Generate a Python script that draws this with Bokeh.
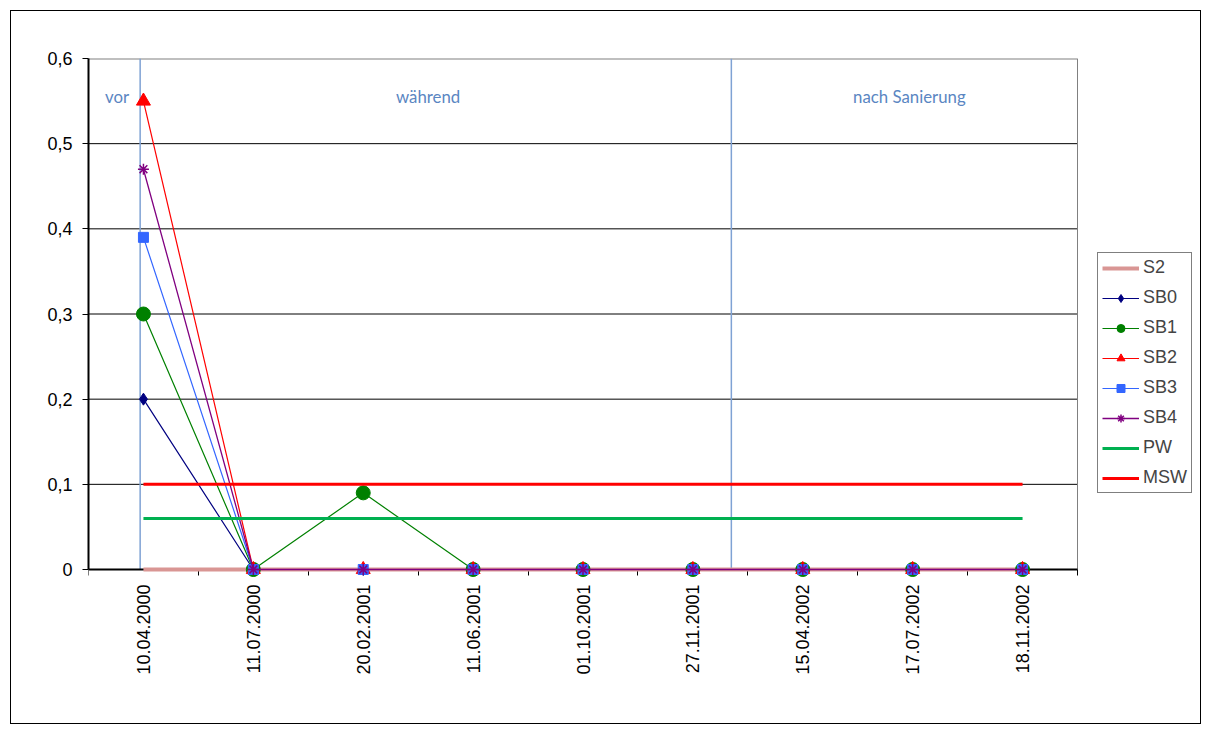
import math
from bokeh.plotting import figure
from bokeh.models import (FixedTicker, CustomJSTickFormatter, Legend,
                          LegendItem, Range1d, ColumnDataSource)
from bokeh.embed import file_html
from bokeh.resources import INLINE
from bokeh.core.properties import value

# ---------------- data ----------------
dates = ["10.04.2000", "11.07.2000", "20.02.2001", "11.06.2001", "01.10.2001",
         "27.11.2001", "15.04.2002", "17.07.2002", "18.11.2002"]
S2 = [0, 0, 0, 0, 0, 0, 0, 0, 0]
SB0 = [0.2, 0, 0, 0, 0, 0, 0, 0, 0]
SB1 = [0.3, 0, 0.09, 0, 0, 0, 0, 0, 0]
SB2 = [0.55, 0, 0, 0, 0, 0, 0, 0, 0]
SB3 = [0.39, 0, 0, 0, 0, 0, 0, 0, 0]
SB4 = [0.47, 0, 0, 0, 0, 0, 0, 0, 0]
PW = [0.06, 0.06, 0.06, 0.06, 0.06, 0.06, 0.06, 0.06, 0.06]
MSW = [0.1, 0.1, 0.1, 0.1, 0.1, 0.1, 0.1, 0.1, 0.1]
y_ticks = [0, 0.1, 0.2, 0.3, 0.4, 0.5, 0.6]
y_min, y_max = 0, 0.6

phase_names = ["vor", "während", "nach Sanierung"]
phase_label_x = [0.26, 3.09, 7.47]
phase_label_y = [0.555, 0.555, 0.555]
phase_bounds = [0.47, 5.85]

# ---------------- layout (pixels) ----------------
W, H = 1191, 714
LEFT, TOP, RIGHT, BOTTOM = 77, 47, 5, 10
PLOT_W, PLOT_H = 989, 511          # visible plot area (axis box)
n = len(dates)
frame_w = W - LEFT - RIGHT
frame_h = H - TOP - BOTTOM
x_end = frame_w * n / PLOT_W
y_start = y_max - frame_h * (y_max - y_min) / PLOT_H

xs = [i + 0.5 for i in range(n)]
bounds = list(range(n + 1))

p = figure(width=W, height=H, output_backend="svg", toolbar_location=None,
           x_range=Range1d(0, x_end), y_range=Range1d(y_start, y_max),
           min_border_left=LEFT, min_border_top=TOP, min_border_right=RIGHT,
           min_border_bottom=BOTTOM)
p.styles = {"border": "1px solid black", "margin-left": "10px", "margin-top": "10px"}
p.background_fill_color = "white"
p.border_fill_color = "white"
p.outline_line_color = None
p.xgrid.visible = False
p.ygrid.visible = False

# x axis
p.xaxis.fixed_location = y_min
p.xaxis.bounds = (0, n)
p.xaxis.ticker = FixedTicker(ticks=xs, minor_ticks=bounds)
p.xaxis.major_label_overrides = {x: d for x, d in zip(xs, dates)}
p.xaxis.major_label_orientation = math.pi / 2
p.xaxis.major_tick_line_color = None
p.xaxis.major_tick_out = 6
p.xaxis.minor_tick_line_color = "black"
p.xaxis.minor_tick_out = 6
p.xaxis.minor_tick_in = 0
p.xaxis.major_label_standoff = 9
p.xaxis.axis_line_color = "black"
p.xaxis.axis_line_width = 2

# y axis
p.yaxis.bounds = (y_min, y_max)
p.yaxis.ticker = FixedTicker(ticks=y_ticks)
p.yaxis.formatter = CustomJSTickFormatter(
    code="return tick == 0 ? '0' : tick.toFixed(1).replace('.', ',');")
p.yaxis.major_tick_out = 6
p.yaxis.major_tick_in = 0
p.yaxis.major_tick_line_color = "black"
p.yaxis.minor_tick_line_color = None
p.yaxis.major_label_standoff = 10
p.yaxis.axis_line_color = "black"
p.yaxis.axis_line_width = 2

for ax in (p.xaxis, p.yaxis):
    ax.major_label_text_font = "Liberation Sans"
    ax.major_label_text_font_size = "18px"
    ax.major_label_text_color = "black"

# horizontal grid lines (only across the plot area)
grid_y = y_ticks[1:-1]
p.segment(x0=[0] * len(grid_y), y0=grid_y, x1=[n] * len(grid_y), y1=grid_y,
          line_color="black", line_width=1)

# plot-area border (top and right, grey)
p.segment(x0=[0], y0=[y_max], x1=[n], y1=[y_max], line_color="#808080",
          line_width=2)
p.segment(x0=[n], y0=[y_min], x1=[n], y1=[y_max], line_color="#808080",
          line_width=1)

# phase separators and labels
p.segment(x0=phase_bounds, y0=[y_min] * len(phase_bounds), x1=phase_bounds,
          y1=[y_max] * len(phase_bounds), line_color="#7FA2D4", line_width=1.5)
src = ColumnDataSource(dict(x=phase_label_x, y=phase_label_y, t=phase_names))
p.text(x="x", y="y", text="t", source=src, text_font=value("Lato"),
       text_font_size="16.8px", text_color="#5A86C2", text_align="center",
       text_baseline="middle")

# series (drawn above the axis lines, as in the original)
items = []
r = p.line(xs, S2, line_color="#D99694", line_width=4, level="overlay")
items.append(LegendItem(label="S2", renderers=[r]))

series = [
    ("SB0", SB0, "#000080", "diamond", 12, 1.2),
    ("SB1", SB1, "#008000", "circle", 14, 1.2),
    ("SB2", SB2, "#FF0000", "triangle", 14, 1.2),
    ("SB3", SB3, "#3366FF", "square", 10, 1.2),
    ("SB4", SB4, "#800080", "asterisk", 11, 1.3),
]
for name, ys, col, mk, sz, lw in series:
    l = p.line(xs, ys, line_color=col, line_width=lw, level="overlay")
    s = p.scatter(xs, ys, marker=mk, size=sz, fill_color=col, line_color=col,
                  line_width=1.5 if mk == "asterisk" else 1, level="overlay")
    items.append(LegendItem(label=name, renderers=[l, s]))

r = p.line(xs, PW, line_color="#00B050", line_width=3, level="overlay")
items.append(LegendItem(label="PW", renderers=[r]))
r = p.line(xs, MSW, line_color="#FF0000", line_width=3, level="overlay")
items.append(LegendItem(label="MSW", renderers=[r]))

# legend position: left edge 20px right of the plot area, bottom 76px above axis
leg_x = PLOT_W + 20
leg_y = (frame_h - PLOT_H) + 76
legend = Legend(items=items, location=(leg_x, leg_y), border_line_color="black",
                border_line_width=1, background_fill_color="white",
                background_fill_alpha=1, label_text_font="Liberation Sans",
                label_text_font_size="18px", glyph_width=37, glyph_height=20,
                label_height=20, label_standoff=4, padding=4, spacing=9,
                margin=0)
p.add_layout(legend)

open("out.html", "w").write(file_html(p, INLINE))
